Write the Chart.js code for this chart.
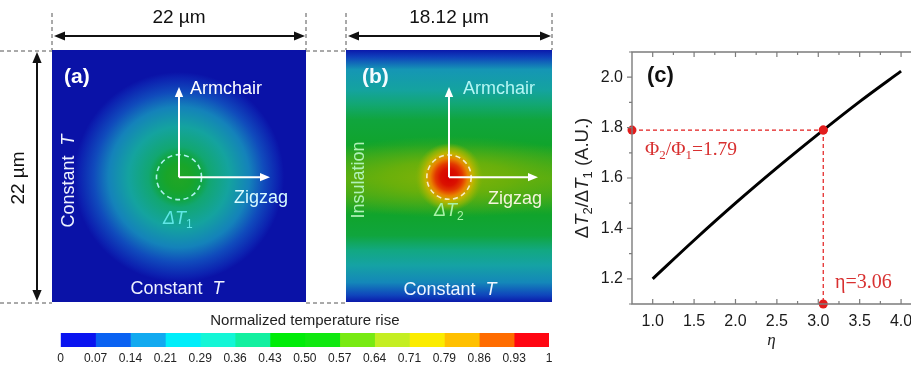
<!DOCTYPE html>
<html>
<head>
<meta charset="utf-8">
<script src="https://cdn.jsdelivr.net/npm/chart.js@4.4.0/dist/chart.umd.min.js"></script>
<style>
  html, body { margin: 0; padding: 0; background: #fff; }
  #wrap { position: relative; width: 911px; height: 367px; overflow: hidden; background: #fff; }
  #wrap canvas { position: absolute; }
</style>
</head>
<body>
<div id="wrap">
  <canvas id="panelA" width="320" height="310" style="left:0;top:0"></canvas>
  <canvas id="panelB" width="250" height="310" style="left:320px;top:0"></canvas>
  <canvas id="colorBar" width="530" height="59" style="left:40px;top:308px"></canvas>
  <canvas id="panelC" width="371" height="367" style="left:560px;top:0"></canvas>
</div>
<script>
// (c) ratio of temperature rises vs anisotropy eta
var etaValues = [1.0, 1.5, 2.0, 2.5, 3.0, 3.5, 4.0];
var ratioValues = [1.200, 1.353, 1.500, 1.640, 1.774, 1.903, 2.024];
var markEta = [3.06];
var markRatio = [1.79];
var etaTicks = [1.0, 1.5, 2.0, 2.5, 3.0, 3.5, 4.0];
var ratioTicks = [1.2, 1.4, 1.6, 1.8, 2.0];

// colour bar
var cbLabels = ['0', '0.07', '0.14', '0.21', '0.29', '0.36', '0.43', '0.50', '0.57', '0.64', '0.71', '0.79', '0.86', '0.93', '1'];
var cbColors = ['#0a14f0', '#0a62f2', '#12aaf0', '#00eefa', '#14f6d6', '#12f0a0', '#00ec08', '#10e810',
                '#78ea12', '#c4ee22', '#fbec00', '#ffc000', '#ff6c00', '#ff0612'];

// (a) temperature rise around the spot (r as fraction of aRadius, in um)
var aCentre = [11.0, 10.9];
var aRadius = 9.1;
var aStopR = [0, 0.12, 0.21, 0.29, 0.48, 0.67, 0.81, 0.95, 1];
var aStopT = [0.52, 0.51, 0.48, 0.42, 0.34, 0.24, 0.14, 0.05, 0.01];

// (b) profile along the insulated edge (y in um from bottom)
var bEdgeY = [22, 21.4, 20.3, 18.5, 17.2, 15.9, 13.7, 11.9, 10.8, 9.3, 7.6, 5.8, 4.5, 3.2, 1.7, 0.6, 0];
var bEdgeT = [0.03, 0.12, 0.28, 0.34, 0.42, 0.48, 0.50, 0.55, 0.58, 0.55, 0.50, 0.48, 0.40, 0.33, 0.25, 0.13, 0.03];
var bCentre = [9.06, 10.9];
var bBand = [14, 3.6];
var bBandR = [0, 0.4, 1];
var bBandT = [0.63, 0.60, 0.56];
var bBandA = [1, 0.9, 0];
var bSpot = 3.0;
var bSpotR = [0, 0.25, 0.4, 0.55, 0.7, 0.85, 1];
var bSpotT = [1.0, 0.97, 0.90, 0.80, 0.71, 0.65, 0.62];
var bSpotA = [1, 1, 1, 1, 1, 0.75, 0];

var spotRadius = 1.95;

// colours as they appear in the maps (softer than the bar)
var cmapT = [0, 0.1, 0.2, 0.3, 0.4, 0.5, 0.6, 0.7, 0.8, 0.9, 1];
var cmapRGB = [[10, 14, 165], [14, 52, 186], [18, 110, 192], [22, 160, 178], [18, 168, 130], [16, 164, 44],
               [108, 176, 10], [190, 186, 0], [232, 132, 0], [226, 56, 0], [214, 0, 0]];

var SANS = "'Liberation Sans', Arial, sans-serif";
var SERIF = "'Liberation Serif', 'Times New Roman', serif";

function tColor(t, alpha) {
  var i, f, a, b, c;
  t = Math.max(0, Math.min(1, t));
  for (i = 1; i < cmapT.length - 1; i++) { if (t <= cmapT[i]) break; }
  f = (t - cmapT[i - 1]) / (cmapT[i] - cmapT[i - 1]);
  a = cmapRGB[i - 1]; b = cmapRGB[i];
  c = [0, 1, 2].map(function(k) { return Math.round(a[k] + (b[k] - a[k]) * f); });
  return 'rgba(' + c.join(',') + ',' + (alpha == null ? 1 : alpha) + ')';
}

function partFont(p, size, family, bold) {
  var s = p[1] || '';
  var sz = s.indexOf('sub') >= 0 ? Math.round(size * 0.68) : size;
  return (s.charAt(0) === 'i' ? 'italic ' : '') + (bold ? 'bold ' : '') + sz + 'px ' + family;
}

// parts: [[text, style]] with style '', 'i', 'sub'
function drawRich(ctx, parts, x, y, size, family, color, align, bold) {
  var w = 0, cx;
  ctx.save();
  ctx.textBaseline = 'middle';
  ctx.textAlign = 'left';
  ctx.fillStyle = color;
  parts.forEach(function(p) { ctx.font = partFont(p, size, family, bold); w += ctx.measureText(p[0]).width; });
  cx = align === 'center' ? x - w / 2 : (align === 'right' ? x - w : x);
  parts.forEach(function(p) {
    ctx.font = partFont(p, size, family, bold);
    var dy = (p[1] || '').indexOf('sub') >= 0 ? size * 0.3 : 0;
    ctx.fillText(p[0], cx, y + dy);
    cx += ctx.measureText(p[0]).width;
  });
  ctx.restore();
}

function head(ctx, x, y, a, len) {
  var w = len * 0.42;
  ctx.beginPath();
  ctx.moveTo(x, y);
  ctx.lineTo(x - len * Math.cos(a) + w * Math.sin(a), y - len * Math.sin(a) - w * Math.cos(a));
  ctx.lineTo(x - len * Math.cos(a) - w * Math.sin(a), y - len * Math.sin(a) + w * Math.cos(a));
  ctx.closePath();
  ctx.fill();
}

function arrow(ctx, x1, y1, x2, y2, color, lw, len, both) {
  var a = Math.atan2(y2 - y1, x2 - x1);
  ctx.save();
  ctx.strokeStyle = color; ctx.fillStyle = color; ctx.lineWidth = lw;
  ctx.beginPath();
  ctx.moveTo(x1 + (both ? Math.cos(a) * len * 0.8 : 0), y1 + (both ? Math.sin(a) * len * 0.8 : 0));
  ctx.lineTo(x2 - Math.cos(a) * len * 0.8, y2 - Math.sin(a) * len * 0.8);
  ctx.stroke();
  head(ctx, x2, y2, a, len);
  if (both) head(ctx, x1, y1, a + Math.PI, len);
  ctx.restore();
}

function dashed(ctx, x1, y1, x2, y2) {
  ctx.save();
  ctx.strokeStyle = '#555'; ctx.lineWidth = 1; ctx.setLineDash([4, 3]);
  ctx.beginPath(); ctx.moveTo(x1, y1); ctx.lineTo(x2, y2); ctx.stroke();
  ctx.restore();
}

function dashedCircle(ctx, cx, cy, r, color) {
  ctx.save();
  ctx.strokeStyle = color; ctx.lineWidth = 1.6; ctx.setLineDash([5, 3.5]);
  ctx.beginPath(); ctx.arc(cx, cy, r, 0, Math.PI * 2); ctx.stroke();
  ctx.restore();
}

function radialLayer(ctx, ca, cx, cy, rx, ry, stops, temps, alphas) {
  var g;
  ctx.save();
  ctx.beginPath(); ctx.rect(ca.left, ca.top, ca.right - ca.left, ca.bottom - ca.top); ctx.clip();
  ctx.translate(cx, cy);
  ctx.scale(1, ry / rx);
  g = ctx.createRadialGradient(0, 0, 0, 0, 0, rx);
  stops.forEach(function(s, i) { g.addColorStop(s, tColor(temps[i], alphas ? alphas[i] : 1)); });
  ctx.fillStyle = g;
  ctx.fillRect(-rx * 3, -rx * 3, rx * 6, rx * 6);
  ctx.restore();
}

var mapPlugin = {
  id: 'heatMap',
  beforeDatasetsDraw: function(chart) {
    var ctx = chart.ctx, ca = chart.chartArea, xs = chart.scales.x, ys = chart.scales.y;
    var pxPerUm = xs.getPixelForValue(1) - xs.getPixelForValue(0);
    var cx, cy, g, top, bot;
    if (chart.canvas.id === 'panelA') {
      cx = xs.getPixelForValue(aCentre[0]); cy = ys.getPixelForValue(aCentre[1]);
      radialLayer(ctx, ca, cx, cy, aRadius * pxPerUm, aRadius * pxPerUm, aStopR, aStopT);
    } else {
      top = ys.getPixelForValue(22); bot = ys.getPixelForValue(0);
      g = ctx.createLinearGradient(0, top, 0, bot);
      bEdgeY.forEach(function(v, i) { g.addColorStop((ys.getPixelForValue(v) - top) / (bot - top), tColor(bEdgeT[i])); });
      ctx.fillStyle = g;
      ctx.fillRect(ca.left, ca.top, ca.right - ca.left, ca.bottom - ca.top);
      cx = xs.getPixelForValue(bCentre[0]); cy = ys.getPixelForValue(bCentre[1]);
      radialLayer(ctx, ca, cx, cy, bBand[0] * pxPerUm, bBand[1] * pxPerUm, bBandR, bBandT, bBandA);
      radialLayer(ctx, ca, cx, cy, bSpot * pxPerUm, bSpot * pxPerUm, bSpotR, bSpotT, bSpotA);
    }
  },
  afterDraw: function(chart) {
    var ctx = chart.ctx, ca = chart.chartArea, xs = chart.scales.x, ys = chart.scales.y;
    var pxPerUm = xs.getPixelForValue(1) - xs.getPixelForValue(0);
    var isA = chart.canvas.id === 'panelA';
    var c = isA ? aCentre : bCentre;
    var cx = xs.getPixelForValue(c[0]), cy = ys.getPixelForValue(c[1]);
    var midX = (ca.left + ca.right) / 2;

    // dimension guides
    dashed(ctx, ca.left, 13, ca.left, ca.top);
    dashed(ctx, ca.right, 13, ca.right, ca.top);
    arrow(ctx, ca.left + 2, 36, ca.right - 1, 36, '#111', 2, 11, true);
    if (isA) {
      dashed(ctx, 0, ca.top + 1, ca.left, ca.top + 1);
      dashed(ctx, 0, ca.bottom + 1, ca.left, ca.bottom + 1);
      dashed(ctx, ca.right, ca.top + 1, chart.width, ca.top + 1);
      dashed(ctx, ca.right, ca.bottom + 1, chart.width, ca.bottom + 1);
      arrow(ctx, 37, ca.top + 2, 37, ca.bottom - 1, '#111', 2, 11, true);
      drawRich(ctx, [['22 µm', '']], midX, 18, 19, SANS, '#111', 'center');
      ctx.save(); ctx.translate(19, 178); ctx.rotate(-Math.PI / 2);
      drawRich(ctx, [['22 µm', '']], 0, 0, 19, SANS, '#111', 'center');
      ctx.restore();
    } else {
      dashed(ctx, 0, ca.top + 1, ca.left, ca.top + 1);
      dashed(ctx, 0, ca.bottom + 1, ca.left, ca.bottom + 1);
      drawRich(ctx, [['18.12 µm', '']], midX, 18, 19, SANS, '#111', 'center');
    }

    // in-panel labels
    dashedCircle(ctx, cx, cy, spotRadius * pxPerUm, isA ? '#aef2f0' : '#f6eec4');
    arrow(ctx, cx, cy, cx, 87, '#fff', 2, 10, false);
    arrow(ctx, cx, cy, isA ? 270 : 218, cy, '#fff', 2, 10, false);
    if (isA) {
      drawRich(ctx, [['(a)', '']], 64, 77, 21, SANS, '#fff', 'left', true);
      drawRich(ctx, [['Armchair', '']], 190, 89, 18, SANS, '#fff', 'left');
      drawRich(ctx, [['Zigzag', '']], 234, 198, 18, SANS, '#d8fbff', 'left');
      drawRich(ctx, [['Δ', 'i'], ['T', 'i'], ['1', 'sub']], 163, 219, 18, SANS, '#5fe6e6', 'left');
      drawRich(ctx, [['Constant  ', ''], ['T', 'i']], 177, 289, 18, SANS, '#eef2ff', 'center');
      ctx.save(); ctx.translate(69, 181); ctx.rotate(-Math.PI / 2);
      drawRich(ctx, [['Constant  ', ''], ['T', 'i']], 0, 0, 18, SANS, '#eef2ff', 'center');
      ctx.restore();
    } else {
      drawRich(ctx, [['(b)', '']], 42, 77, 21, SANS, '#f4fbff', 'left', true);
      drawRich(ctx, [['Armchair', '']], 143, 89, 18, SANS, '#b4f6f4', 'left');
      drawRich(ctx, [['Zigzag', '']], 168, 199, 18, SANS, '#f4f4dc', 'left');
      drawRich(ctx, [['Δ', 'i'], ['T', 'i'], ['2', 'sub']], 114, 211, 18, SANS, '#a8f2a8', 'left');
      drawRich(ctx, [['Constant  ', ''], ['T', 'i']], 130, 290, 18, SANS, '#eef6ff', 'center');
      ctx.save(); ctx.translate(39, 180); ctx.rotate(-Math.PI / 2);
      drawRich(ctx, [['Insulation', '']], 0, 0, 18, SANS, '#b0f2b8', 'center');
      ctx.restore();
    }
  }
};

function mapChart(id, widthUm, pad) {
  return new Chart(document.getElementById(id), {
    type: 'scatter',
    data: { datasets: [] },
    options: {
      responsive: false, animation: false, events: [],
      layout: { padding: pad },
      plugins: { legend: { display: false }, tooltip: { enabled: false } },
      scales: {
        x: { type: 'linear', min: 0, max: widthUm, display: false },
        y: { type: 'linear', min: 0, max: 22, display: false }
      }
    },
    plugins: [mapPlugin]
  });
}

mapChart('panelA', 22, { left: 52, top: 50, right: 14, bottom: 8 });
mapChart('panelB', 18.12, { left: 26, top: 50, right: 18, bottom: 8 });

// colour bar
var barTitle = {
  id: 'barTitle',
  afterDraw: function(chart) {
    var ca = chart.chartArea;
    drawRich(chart.ctx, [['Normalized temperature rise', '']], (ca.left + ca.right) / 2, 13, 15, SANS, '#222', 'center');
  }
};

new Chart(document.getElementById('colorBar'), {
  type: 'bar',
  data: {
    labels: [''],
    datasets: cbColors.map(function(c) {
      return { data: [1], backgroundColor: c, borderWidth: 0, barPercentage: 1, categoryPercentage: 1 };
    })
  },
  options: {
    indexAxis: 'y', responsive: false, animation: false, events: [],
    layout: { padding: { left: 20.7, right: 21, top: 25, bottom: 0 } },
    plugins: { legend: { display: false }, tooltip: { enabled: false } },
    scales: {
      x: {
        stacked: true, min: 0, max: cbColors.length,
        grid: { display: false, drawTicks: false }, border: { display: false },
        afterBuildTicks: function(s) { s.ticks = cbLabels.map(function(l, i) { return { value: i }; }); },
        afterFit: function(s) { s.height = 20; },
        ticks: {
          autoSkip: false, maxRotation: 0, padding: 4, color: '#222',
          font: { family: SANS, size: 12 },
          callback: function(v) { return cbLabels[v]; }
        }
      },
      y: { stacked: true, display: false }
    }
  },
  plugins: [barTitle]
});

// (c)
var xMin = 0.75, xMax = 4.12, yMin = 1.1, yMax = 2.1;
var red = '#e21c1c';

var frameC = {
  id: 'frameC',
  afterDraw: function(chart) {
    var ctx = chart.ctx, ca = chart.chartArea, xs = chart.scales.x, ys = chart.scales.y, v, p;
    ctx.save();
    ctx.strokeStyle = '#7c7c7c'; ctx.lineWidth = 1.4;
    ctx.beginPath();
    ctx.moveTo(ca.right, ca.top); ctx.lineTo(ca.left, ca.top); ctx.lineTo(ca.left, ca.bottom); ctx.lineTo(ca.right, ca.bottom);
    ctx.stroke();
    ctx.lineWidth = 1.2;
    ctx.beginPath();
    for (v = 1.0; v <= 4.001; v += 0.25) {
      p = xs.getPixelForValue(v);
      var len = Math.abs(v * 2 - Math.round(v * 2)) < 0.01 ? 5 : 3;
      ctx.moveTo(p, ca.bottom); ctx.lineTo(p, ca.bottom - len);
      ctx.moveTo(p, ca.top); ctx.lineTo(p, ca.top + len);
    }
    for (v = 1.1; v <= 2.101; v += 0.1) {
      p = ys.getPixelForValue(v);
      var l2 = Math.abs(v * 5 - Math.round(v * 5)) < 0.01 ? 5 : 3;
      ctx.moveTo(ca.left, p); ctx.lineTo(ca.left - l2, p);
    }
    ctx.stroke();
    ctx.restore();

    drawRich(ctx, [['(c)', '']], ca.left + 15, 76, 22, SANS, '#111', 'left', true);
    drawRich(ctx, [['Φ', ''], ['2', 'sub'], ['/Φ', ''], ['1', 'sub'], ['=1.79', '']], ca.left + 13, 150, 19.5, SERIF, '#d83030', 'left');
    drawRich(ctx, [['η=3.06', '']], ca.left + 203, 283, 20, SERIF, '#d83030', 'left');
    drawRich(ctx, [['η', 'i']], (ca.left + 351) / 2, 341, 17, SERIF, '#222', 'center');
    ctx.save(); ctx.translate(23, 178); ctx.rotate(-Math.PI / 2);
    drawRich(ctx, [['Δ', ''], ['T', 'i'], ['2', 'sub'], ['/Δ', ''], ['T', 'i'], ['1', 'sub'], [' (A.U.)', '']], 0, 0, 18.5, SANS, '#222', 'center');
    ctx.restore();
  }
};

new Chart(document.getElementById('panelC'), {
  type: 'scatter',
  data: {
    datasets: [
      {
        data: etaValues.map(function(x, i) { return { x: x, y: ratioValues[i] }; }),
        showLine: true, borderColor: '#000', borderWidth: 3, pointRadius: 0,
        cubicInterpolationMode: 'monotone', order: 3
      },
      {
        data: [{ x: xMin, y: markRatio[0] }, { x: markEta[0], y: markRatio[0] }],
        showLine: true, borderColor: red, borderWidth: 1.2, borderDash: [4, 3],
        pointRadius: 4.5, pointBackgroundColor: red, pointBorderWidth: 0, clip: false, order: 1
      },
      {
        data: [{ x: markEta[0], y: markRatio[0] }, { x: markEta[0], y: yMin }],
        showLine: true, borderColor: red, borderWidth: 1.2, borderDash: [4, 3],
        pointRadius: 4.5, pointBackgroundColor: red, pointBorderWidth: 0, clip: false, order: 2
      }
    ]
  },
  options: {
    responsive: false, animation: false, events: [],
    layout: { padding: { left: 0, top: 52, right: 20, bottom: 0 } },
    plugins: { legend: { display: false }, tooltip: { enabled: false } },
    scales: {
      x: {
        type: 'linear', min: xMin, max: xMax,
        grid: { display: false, drawTicks: false }, border: { display: false },
        afterBuildTicks: function(s) { s.ticks = etaTicks.map(function(v) { return { value: v }; }); },
        afterFit: function(s) { s.height = 63; },
        ticks: { padding: 8, color: '#1a1a1a', font: { family: SANS, size: 16 }, maxRotation: 0, autoSkip: false,
                 callback: function(v) { return v.toFixed(1); } }
      },
      y: {
        type: 'linear', min: yMin, max: yMax,
        grid: { display: false, drawTicks: false }, border: { display: false },
        afterBuildTicks: function(s) { s.ticks = ratioTicks.map(function(v) { return { value: v }; }); },
        afterFit: function(s) { s.width = 72; },
        ticks: { padding: 9, color: '#1a1a1a', font: { family: SANS, size: 16 },
                 callback: function(v) { return v.toFixed(1); } }
      }
    }
  },
  plugins: [frameC]
});
</script>
</body>
</html>
